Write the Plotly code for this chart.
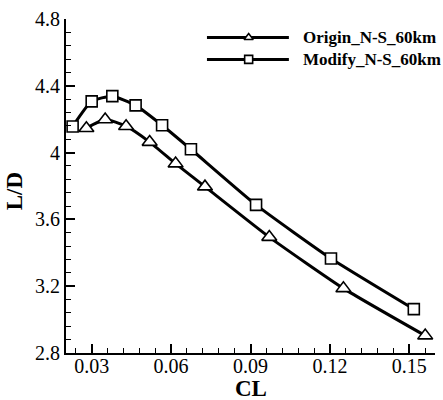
import plotly.graph_objects as go

# Data
cl_origin = [0.0280, 0.0351, 0.0430, 0.0519, 0.0617, 0.0728, 0.0971, 0.1251, 0.1560]
ld_origin = [4.146, 4.198, 4.158, 4.063, 3.934, 3.796, 3.494, 3.187, 2.904]
cl_modify = [0.0228, 0.0300, 0.0378, 0.0466, 0.0566, 0.0675, 0.0921, 0.1204, 0.1517]
ld_modify = [4.156, 4.307, 4.338, 4.283, 4.164, 4.020, 3.687, 3.366, 3.063]
names = ["Origin_N-S_60km", "Modify_N-S_60km"]
x_ticks = [0.03, 0.06, 0.09, 0.12, 0.15]
y_ticks = [2.8, 3.2, 3.6, 4.0, 4.4, 4.8]
y_tick_text = ["2.8", "3.2", "3.6", "4", "4.4", "4.8"]

FONT = "Liberation Serif"
fig = go.Figure()

series = [
    (cl_origin, ld_origin, "triangle-up", 13),
    (cl_modify, ld_modify, "square", 11),
]
for (xs, ys, sym, ms), nm in zip(series, names):
    fig.add_trace(go.Scatter(
        x=xs, y=ys, mode="lines", name=nm, showlegend=False,
        line=dict(color="black", width=3, shape="spline", smoothing=0.5),
    ))
    fig.add_trace(go.Scatter(
        x=xs, y=ys, mode="markers", showlegend=False,
        marker=dict(symbol=sym, size=ms, color="white",
                    line=dict(color="black", width=1.6)),
    ))

# Custom legend on a hidden overlay axis (0..1)
leg_rows = [0.9445, 0.879]
leg_syms = ["triangle-up", "square"]
for nm, yrow, sym in zip(names, leg_rows, leg_syms):
    fig.add_trace(go.Scatter(
        x=[0.382, 0.604], y=[yrow, yrow], mode="lines", xaxis="x2", yaxis="y2",
        line=dict(color="black", width=3), showlegend=False, hoverinfo="skip",
    ))
    fig.add_trace(go.Scatter(
        x=[0.495], y=[yrow], mode="markers", xaxis="x2", yaxis="y2",
        marker=dict(symbol=sym, size=8, color="white", line=dict(color="black", width=1.6)),
        showlegend=False, hoverinfo="skip",
    ))
    fig.add_annotation(
        x=0.637, y=yrow, xref="x2", yref="y2", text="<b>%s</b>" % nm, showarrow=False,
        xanchor="left", yanchor="middle", font=dict(family=FONT, size=17, color="black"),
    )

fig.update_layout(
    width=443, height=400,
    margin=dict(l=66, r=8, t=16, b=47),
    paper_bgcolor="white", plot_bgcolor="white",
    showlegend=False,
    font=dict(family=FONT, size=20, color="black"),
    xaxis=dict(
        range=[0.0203, 0.1597], tickvals=x_ticks, ticktext=["0.03", "0.06", "0.09", "0.12", "0.15"],
        ticks="inside", ticklen=9, tickwidth=1.5, tickcolor="black",
        minor=dict(dtick=0.006, tick0=0.0, ticks="inside", ticklen=5, tickwidth=1.2, tickcolor="black"),
        showline=True, linecolor="black", linewidth=2, showgrid=False, zeroline=False,
        tickfont=dict(family=FONT, size=20), mirror=False, ticklabelstandoff=-6,
    ),
    yaxis=dict(
        range=[2.8, 4.8], tickvals=y_ticks, ticktext=y_tick_text,
        ticks="inside", ticklen=9, tickwidth=1.5, tickcolor="black",
        minor=dict(dtick=0.08, tick0=2.8, ticks="inside", ticklen=5, tickwidth=1.2, tickcolor="black"),
        showline=True, linecolor="black", linewidth=2, showgrid=False, zeroline=False,
        tickfont=dict(family=FONT, size=20), mirror=False,
    ),
    xaxis2=dict(range=[0, 1], overlaying="x", visible=False, fixedrange=True),
    yaxis2=dict(range=[0, 1], overlaying="y", visible=False, fixedrange=True),
)

fig.add_annotation(x=0.5, y=-0.107, xref="paper", yref="paper", text="<b>CL</b>",
                   showarrow=False, xanchor="center", yanchor="middle",
                   font=dict(family=FONT, size=23, color="black"))
fig.add_annotation(x=-0.14, y=0.485, xref="paper", yref="paper", text="<b>L/D</b>",
                   showarrow=False, textangle=-90, xanchor="center", yanchor="middle",
                   font=dict(family=FONT, size=23, color="black"))

fig.write_html("out.html")
